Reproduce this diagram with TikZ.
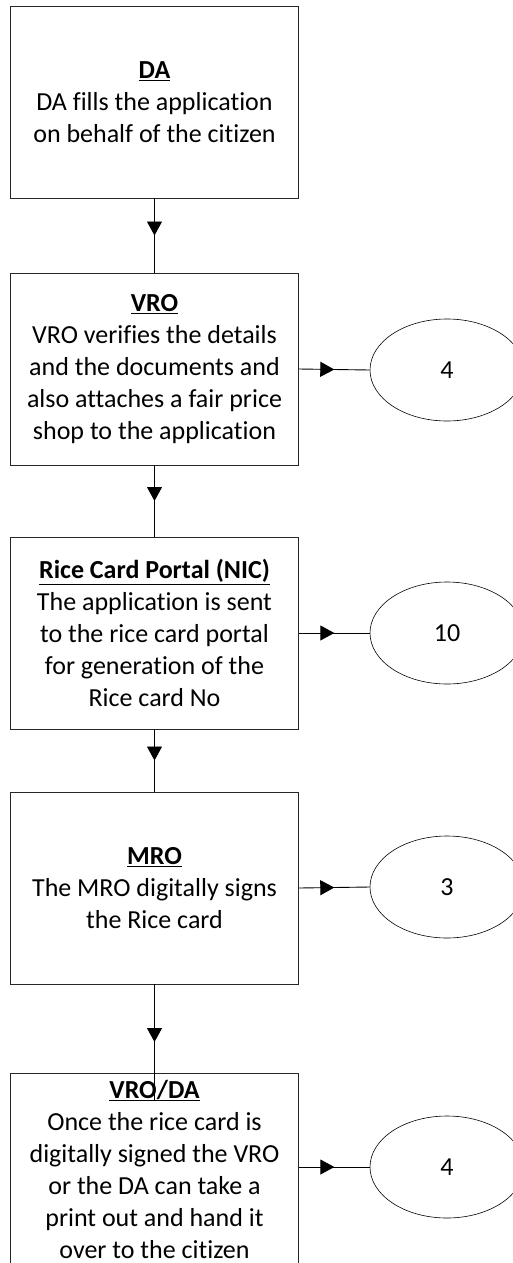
\documentclass[tikz,border=0pt]{standalone}
\usepackage{fontspec}
\setmainfont{Carlito}[Ligatures={NoCommon,NoContextual},RawFeature={-liga;-clig;-dlig}]
\usetikzlibrary{arrows.meta,decorations.markings,shapes.geometric}
\tikzset{
  stepbox/.style={draw=black!85, line width=0.8pt, minimum width=288pt, minimum height=192pt, align=center, inner sep=2pt, font=\fontsize{26}{32}\selectfont},
  oval/.style={draw=black, line width=0.6pt, ellipse, minimum width=154pt, minimum height=102pt, inner sep=0pt, font=\fontsize{26}{32}\selectfont},
  flow/.style={draw=black, line width=0.9pt, postaction={decorate}, decoration={markings, mark=at position 0.5 with {\arrow[line width=0.9pt]{Triangle[width=15pt,length=14pt]}}}}
}
\newcommand{\ttl}[1]{\underline{\textbf{#1}}}
\begin{document}
\begin{tikzpicture}[x=1pt,y=-1pt]
\useasboundingbox (0,0) rectangle (513,1263);
\node[stepbox] (b1) at (154.5,102) {\ttl{DA}\\DA fills the application\\on behalf of the citizen};
\node[stepbox] (b2) at (154.5,369) {\ttl{VRO}\\VRO verifies the details\\and the documents and\\also attaches a fair price\\shop to the application};
\node[stepbox] (b3) at (154.5,633) {\ttl{Rice Card Portal (NIC)}\\The application is sent\\to the rice card portal\\for generation of the\\Rice card No};
\node[stepbox] (b4) at (154.5,888) {\ttl{MRO}\\The MRO digitally signs\\the Rice card};
\node[stepbox] (b5) at (154.5,1169) {\ttl{VRO/DA}\\Once the rice card is\\digitally signed the VRO\\or the DA can take a\\print out and hand it\\over to the citizen};
\node[oval] (e1) at (447,370) {4};
\node[oval] (e2) at (447,633) {10};
\node[oval] (e3) at (447,887) {3};
\node[oval] (e4) at (447,1167) {4};
\coordinate (c5) at ([yshift=-27pt]b5.north);
\path[flow] (b1.south) -- (b2.north);
\path[flow] (b2.south) -- (b3.north);
\path[flow] (b3.south) -- (b4.north);
\path[flow] (b4.south) -- (c5);
\path[flow] (b2.east) -- (e1.west);
\path[flow] (b3.east) -- (e2.west);
\path[flow] (b4.east) -- (e3.west);
\path[flow] (b5.east |- e4.west) -- (e4.west);
\end{tikzpicture}
\end{document}
